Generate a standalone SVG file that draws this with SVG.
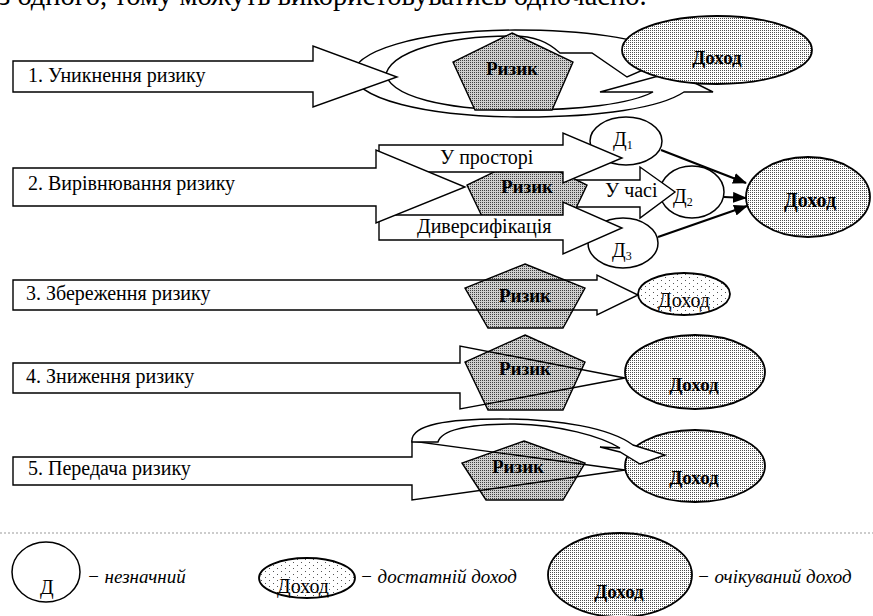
<svg xmlns="http://www.w3.org/2000/svg" width="873" height="616" viewBox="0 0 873 616" font-family="'Liberation Serif', 'DejaVu Serif', serif">
<defs>
<pattern id="pR" width="2" height="2" patternUnits="userSpaceOnUse"><rect width="2" height="2" fill="#cfcfcf"/><rect width="1" height="1" fill="#404040"/></pattern>
<pattern id="pD" width="2" height="2" patternUnits="userSpaceOnUse"><rect width="2" height="2" fill="#ffffff"/><rect width="1" height="1" fill="#505050"/></pattern>
<pattern id="pS" width="8" height="6" patternUnits="userSpaceOnUse"><rect width="8" height="6" fill="#ffffff"/><rect x="1" y="1" width="1" height="1" fill="#555"/><rect x="5" y="4" width="1" height="1" fill="#555"/></pattern>
<marker id="ah" markerUnits="userSpaceOnUse" markerWidth="14" markerHeight="11" refX="13" refY="5.5" orient="auto"><path d="M0,0 L14,5.5 L0,11 Z" fill="#000"/></marker>
</defs>
<style>
text{font-family:'Liberation Serif','DejaVu Serif',serif;font-size:20px;fill:#000}
.b{font-weight:bold;font-size:19px}
.i{font-style:italic;font-size:19px}
.blk{fill:#fff;stroke:#000;stroke-width:1.4;stroke-linejoin:miter}
.open{fill:none;stroke:#000;stroke-width:1.4}
.risk{fill:url(#pR);stroke:#000;stroke-width:1.4}
.inc{fill:url(#pD);stroke:#000;stroke-width:1.8}
.sm{fill:url(#pS);stroke:#000;stroke-width:1.8}
.d{fill:#fff;stroke:#000;stroke-width:1.5}
.con{fill:none;stroke:#000;stroke-width:2.2}
</style>
<rect width="873" height="616" fill="#fff"/>
<text x="-1" y="5" style="font-size:28.5px">з одного, тому можуть використовуватись одночасно.</text>

<!-- Row 1 -->
<g id="row1-cycle">
<path class="blk" d="M352,68 C348,100 430,117 525,117 C600,117 660,108 684,92 L713,92 L673,72 L600,92 L653,92 C630,104 580,110 520,110 C450,110 386,98 385,70 Z"/>
<path class="blk" d="M352,80 C348,50 420,31 515,30 C585,30 640,38 668,53 L682,53 L627,77 L592,53 L560,53 C548,42 535,36 512,36 C450,36 388,50 385,78 Z"/>
</g>
<g id="income1"><ellipse class="inc" cx="717" cy="50" rx="95" ry="34"/><text class="b" x="717" y="64" text-anchor="middle">Доход</text></g>
<g id="arrow1"><path class="blk" d="M13,61 H313 V46 L397,77 L313,107 V92 H13 Z"/><text x="28" y="82">1. Уникнення ризику</text></g>
<g id="risk1"><polygon class="risk" points="512,33 573,62 552,110 475,110 453,62"/><text class="b" x="512" y="75" text-anchor="middle">Ризик</text></g>

<!-- Row 2 -->
<g id="d1"><ellipse class="d" cx="626" cy="141" rx="36" ry="24"/><text x="613" y="146">Д<tspan style="font-size:12px" dy="3">1</tspan></text></g>
<g id="d2"><ellipse class="d" cx="692" cy="192" rx="32" ry="26"/><text x="673" y="203">Д<tspan style="font-size:12px" dy="3">2</tspan></text></g>
<g id="d3"><ellipse class="d" cx="623" cy="243" rx="35" ry="25"/><text x="612" y="257">Д<tspan style="font-size:12px" dy="3">3</tspan></text></g>
<g id="arrow-time"><path class="blk" d="M550,180 H640 V167 L675,192 L640,218 V207 H550 Z"/><text x="605" y="197">У часі</text></g>
<g id="risk2"><polygon class="risk" points="527,156 587,185 564,233 490,233 467,185"/><text class="b" x="527" y="193" text-anchor="middle">Ризик</text></g>
<g id="arrow-space"><path class="blk" d="M379,145 H563 V133 L622,158 L563,183 V172 H379 Z"/><text x="440" y="164">У просторі</text></g>
<g id="arrow-div"><path class="blk" d="M379,215 H563 V202 L622,228 L563,254 V240 H379 Z"/><text x="417" y="233">Диверсифікація</text></g>
<g id="arrow2"><path class="blk" d="M13,168 H376 V150 L465,187 L376,223 V206 H13 Z"/><text x="28" y="190">2. Вирівнювання ризику</text></g>
<g id="income2"><ellipse class="inc" cx="808" cy="197" rx="62" ry="40"/><text class="b" x="810" y="207" text-anchor="middle" style="font-size:20px">Доход</text></g>

<!-- Row 3 -->
<g id="risk3"><polygon class="risk" points="525,264 585,288 563,328 488,328 465,288"/><text class="b" x="525" y="302" text-anchor="middle">Ризик</text></g>
<g id="income3"><ellipse class="sm" cx="684" cy="294" rx="46" ry="21"/><text x="684" y="307" text-anchor="middle">Доход</text></g>
<g id="arrow3"><path class="open" d="M13,280 H597 V275 L638,295 L597,315 V310 H13 Z"/><text x="26" y="300">3. Збереження ризику</text></g>

<!-- Row 4 -->
<g id="risk4"><polygon class="risk" points="525,335 585,362 563,410 488,410 465,362"/><text class="b" x="525" y="375" text-anchor="middle">Ризик</text></g>
<g id="income4"><ellipse class="inc" cx="695" cy="372" rx="70" ry="37"/><text class="b" x="694" y="391" text-anchor="middle">Доход</text></g>
<g id="arrow4"><path class="open" d="M13,363 H460 V346 L625,378 L460,409 V393 H13 Z"/><text x="26" y="383">4. Зниження ризику</text></g>

<!-- Row 5 -->
<g id="risk5"><polygon class="risk" points="524,441 585,463 563,500 486,500 462,463"/><text class="b" x="518" y="473" text-anchor="middle">Ризик</text></g>
<g id="income5"><ellipse class="inc" cx="695" cy="466" rx="70" ry="36"/><text class="b" x="694" y="484" text-anchor="middle">Доход</text></g>
<g id="arrow5"><path class="open" d="M13,457 H412 V441 L625,470 L412,500 V485 H13 Z"/><text x="28" y="475">5. Передача ризику</text></g>
<g id="transfer-curve"><path class="blk" d="M412,442 C410,424 450,419 500,419 C560,419 610,428 633,445 L665,455 L640,464 L620,452 L600,447 L620,448 C600,436 560,425 515,424 C475,424 442,428 438,442 Z"/></g>

<!-- Connectors -->
<g id="connectors">
<line class="con" x1="661" y1="150" x2="746" y2="183" marker-end="url(#ah)"/>
<line class="con" x1="724" y1="197" x2="746" y2="198" marker-end="url(#ah)"/>
<line class="con" x1="658" y1="237" x2="747" y2="206" marker-end="url(#ah)"/>
</g>

<!-- Legend -->
<line x1="0" y1="533" x2="873" y2="533" stroke="#999" stroke-width="1" stroke-dasharray="2,2"/>
<g id="legend-d"><ellipse class="d" cx="46" cy="572" rx="34" ry="30"/><text x="40" y="594">Д</text><text class="i" x="87" y="583">− незначний</text></g>
<g id="legend-small"><ellipse class="sm" cx="307" cy="578" rx="48" ry="20"/><text x="303" y="593" text-anchor="middle">Доход</text><text class="i" x="360" y="583">− достатній доход</text></g>
<g id="legend-big"><ellipse class="inc" cx="620" cy="575" rx="72" ry="42"/><text class="b" x="619" y="598" text-anchor="middle">Доход</text><text class="i" x="697" y="583">− очікуваний доход</text></g>
</svg>
